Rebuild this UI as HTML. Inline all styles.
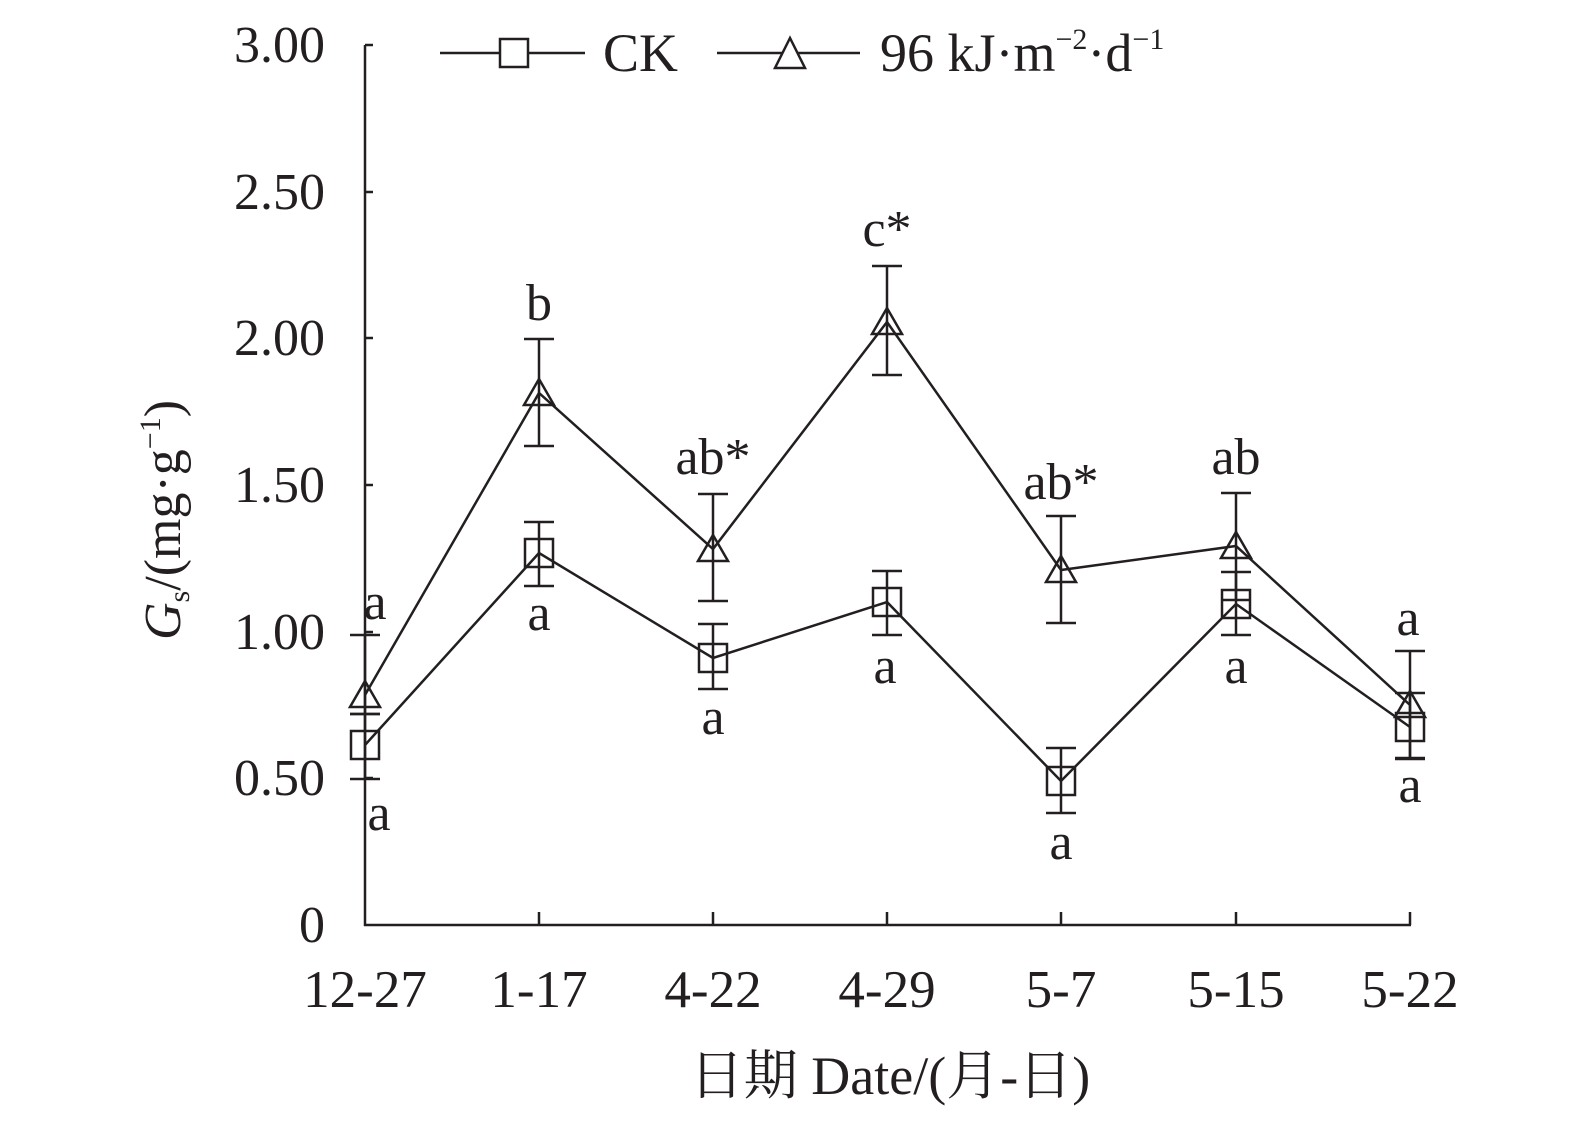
<!DOCTYPE html>
<html><head><meta charset="utf-8"><style>
body{margin:0;background:#fff}
svg text{font-family:"Liberation Serif","Noto Serif CJK SC",serif;fill:#231f20}
</style></head><body>
<svg width="1575" height="1120" viewBox="0 0 1575 1120" xmlns="http://www.w3.org/2000/svg">
<g stroke="#231f20" stroke-width="2.5" fill="none">
<line x1="365" y1="45" x2="365" y2="926"/>
<line x1="364" y1="925" x2="1411" y2="925"/>
<line x1="365" y1="45" x2="373" y2="45"/><line x1="365" y1="192" x2="373" y2="192"/><line x1="365" y1="338" x2="373" y2="338"/><line x1="365" y1="485" x2="373" y2="485"/><line x1="365" y1="632" x2="373" y2="632"/><line x1="365" y1="778" x2="373" y2="778"/>
<line x1="539" y1="925" x2="539" y2="912"/><line x1="713" y1="925" x2="713" y2="912"/><line x1="887" y1="925" x2="887" y2="912"/><line x1="1061" y1="925" x2="1061" y2="912"/><line x1="1236" y1="925" x2="1236" y2="912"/><line x1="1410" y1="925" x2="1410" y2="912"/>
<path d="M365 635V714M350 635H380M350 714H380"/>
<path d="M539 339V446M524 339H554M524 446H554"/>
<path d="M713 494V601M698 494H728M698 601H728"/>
<path d="M887 266V375M872 266H902M872 375H902"/>
<path d="M1061 516V623M1046 516H1076M1046 623H1076"/>
<path d="M1236 493V600M1221 493H1251M1221 600H1251"/>
<path d="M1410 651V758M1395 651H1425M1395 758H1425"/>
<path d="M365 714V779M350 714H380M350 779H380"/>
<path d="M539 522V586M524 522H554M524 586H554"/>
<path d="M713 624V689M698 624H728M698 689H728"/>
<path d="M887 571V635M872 571H902M872 635H902"/>
<path d="M1061 748V813M1046 748H1076M1046 813H1076"/>
<path d="M1236 572V635M1221 572H1251M1221 635H1251"/>
<path d="M1410 693V759M1395 693H1425M1395 759H1425"/>
<polyline points="365,695 539,393 713,549 887,322 1061,570 1236,546 1410,705"/>
<polyline points="365,745 539,553 713,658 887,602 1061,781 1236,604 1410,727"/>
<path d="M365,681 l-15,26 h30z M539,379 l-15,26 h30z M713,535 l-15,26 h30z M887,308 l-15,26 h30z M1061,556 l-15,26 h30z M1236,532 l-15,26 h30z M1410,691 l-15,26 h30z"/>
<path d="M351,731h28v28h-28z M525,539h28v28h-28z M699,644h28v28h-28z M873,588h28v28h-28z M1047,767h28v28h-28z M1222,590h28v28h-28z M1396,713h28v28h-28z"/>
<line x1="440" y1="53" x2="585" y2="53"/><rect x="500" y="39" width="28" height="28" fill="#fff"/>
<line x1="717" y1="53" x2="860" y2="53"/><path d="M790,38 l-15,30 h30z" fill="#fff"/>
</g>
<g font-size="52" text-anchor="end">
<text x="325" y="62">3.00</text><text x="325" y="209">2.50</text><text x="325" y="355">2.00</text><text x="325" y="502">1.50</text><text x="325" y="649">1.00</text><text x="325" y="795">0.50</text><text x="325" y="942">0</text>
</g>
<g font-size="53" text-anchor="middle">
<text x="365" y="1007">12-27</text><text x="539" y="1007">1-17</text><text x="713" y="1007">4-22</text><text x="887" y="1007">4-29</text><text x="1061" y="1007">5-7</text><text x="1236" y="1007">5-15</text><text x="1410" y="1007">5-22</text>
<text x="890" y="1094" font-size="54">日期 Date/(月-日)</text>
</g>
<g font-size="52" text-anchor="middle">
<text x="375" y="619">a</text><text x="539" y="320">b</text><text x="713" y="474">ab*</text><text x="887" y="246">c*</text><text x="1061" y="499">ab*</text><text x="1236" y="474">ab</text><text x="1408" y="635">a</text>
<text x="379" y="830">a</text><text x="539" y="630">a</text><text x="713" y="734">a</text><text x="885" y="683">a</text><text x="1061" y="859">a</text><text x="1236" y="683">a</text><text x="1410" y="802">a</text>
</g>
<text x="603" y="71" font-size="54">CK</text>
<text x="880" y="71" font-size="54">96 kJ·m<tspan font-size="30" dy="-22">−2</tspan><tspan dy="22">·d</tspan><tspan font-size="30" dy="-22">−1</tspan></text>
<text transform="translate(180,640) rotate(-90)" font-size="52"><tspan font-style="italic">G</tspan><tspan font-size="30" dy="9">s</tspan><tspan dy="-9">/(mg·g</tspan><tspan font-size="30" dy="-20">−1</tspan><tspan dy="20">)</tspan></text>
</svg>
</body></html>
